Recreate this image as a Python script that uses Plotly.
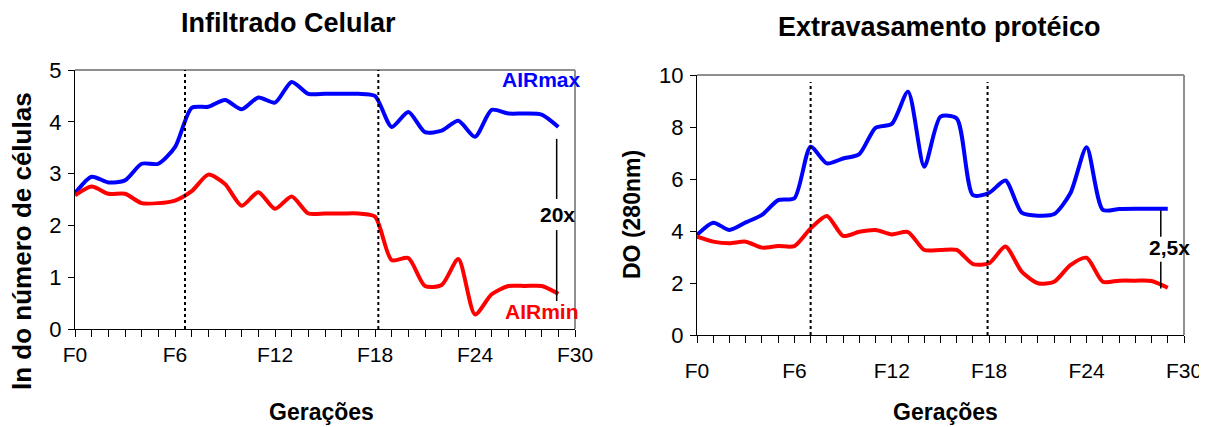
import plotly.graph_objects as go

# ---------------- data ----------------
gen = list(range(30))
tick_vals = [0, 6, 12, 18, 24, 30]
tick_text = ["F0", "F6", "F12", "F18", "F24", "F30"]

# Infiltrado Celular (ln do número de células)
cel_max = [2.62, 2.94, 2.83, 2.87, 3.19, 3.19, 3.51, 4.27, 4.29, 4.42,
           4.24, 4.47, 4.37, 4.77, 4.54, 4.54, 4.54, 4.54, 4.50, 3.90,
           4.19, 3.80, 3.83, 4.02, 3.71, 4.23, 4.16, 4.16, 4.14, 3.90]
cel_min = [2.58, 2.75, 2.61, 2.61, 2.43, 2.43, 2.48, 2.66, 2.98, 2.80,
           2.38, 2.64, 2.32, 2.56, 2.23, 2.23, 2.23, 2.23, 2.17, 1.33,
           1.37, 0.83, 0.85, 1.35, 0.28, 0.67, 0.83, 0.83, 0.83, 0.68]

# Extravasamento protéico (DO 280nm)
prot_max = [3.85, 4.32, 4.04, 4.33, 4.62, 5.19, 5.26, 7.24, 6.60, 6.79,
            6.96, 7.97, 8.12, 9.36, 6.47, 8.40, 8.33, 5.38, 5.47, 5.94,
            4.71, 4.59, 4.65, 5.45, 7.22, 4.81, 4.85, 4.86, 4.86, 4.86]
prot_min = [3.78, 3.59, 3.53, 3.59, 3.36, 3.42, 3.42, 4.10, 4.58, 3.81,
            3.97, 4.04, 3.87, 3.96, 3.27, 3.27, 3.27, 2.73, 2.76, 3.40,
            2.44, 1.99, 2.05, 2.69, 2.97, 2.05, 2.09, 2.09, 2.08, 1.82]

# separators (generation positions of dotted lines)
cel_sep = [6.6, 18.2]
prot_sep = [7.0, 17.9]

FONT = "Liberation Sans, Arial, sans-serif"
TICKFONT = "Liberation Sans Narrow, Arial Narrow, Liberation Sans, Arial, sans-serif"
BLUE = "#0000FF"
RED = "#FF0000"

# the page body adds an 8px margin: size the figure to the remaining window
OFF = 8
W, H = 1207 - OFF, 427 - OFF

fig = go.Figure()

def add_line(x, y, color, xa, ya):
    fig.add_trace(go.Scatter(
        x=x, y=y, mode="lines", xaxis=xa, yaxis=ya, showlegend=False,
        line=dict(color=color, width=4, shape="spline", smoothing=0.7),
        hoverinfo="skip"))

add_line(gen, cel_max, BLUE, "x", "y")
add_line(gen, cel_min, RED, "x", "y")
add_line(gen, prot_max, BLUE, "x2", "y2")
add_line(gen, prot_min, RED, "x2", "y2")

def xaxis_cfg(domain, anchor, standoff):
    return dict(
        domain=domain, anchor=anchor, range=[0, 30], automargin=False,
        tickvals=tick_vals, ticktext=tick_text,
        ticks="outside", ticklen=7, tickwidth=1, tickcolor="black",
        minor=dict(dtick=1, tick0=0, ticks="outside", ticklen=7,
                   tickwidth=1, tickcolor="black", showgrid=False),
        showline=True, linecolor="black", linewidth=1,
        showgrid=False, zeroline=False,
        tickfont=dict(family=TICKFONT, size=21, color="black"),
        ticklabelstandoff=standoff, fixedrange=True)

def yaxis_cfg(domain, anchor, rng, dtick):
    return dict(
        domain=domain, anchor=anchor, range=rng, dtick=dtick, tick0=0,
        automargin=False,
        ticks="outside", ticklen=6, tickwidth=1, tickcolor="black",
        showline=True, linecolor="black", linewidth=1,
        showgrid=False, zeroline=False,
        tickfont=dict(family=FONT, size=22, color="black"),
        ticklabelstandoff=2, fixedrange=True)

# plot-area pixel boxes (window pixels)
L = dict(x0=75, x1=575, y0=70, y1=329)
R = dict(x0=697, x1=1184, y0=75, y1=335)

def fx(px):
    return (px - OFF) / W

def fy(py):
    return 1 - (py - OFF) / H

def dom_x(b):
    return [fx(b["x0"]), fx(b["x1"])]

def dom_y(b):
    return [fy(b["y1"]), fy(b["y0"])]

fig.update_layout(
    width=W, height=H,
    margin=dict(l=0, r=0, t=0, b=0, pad=0, autoexpand=False),
    paper_bgcolor="white", plot_bgcolor="white",
    font=dict(family=FONT, color="black"),
    xaxis=xaxis_cfg(dom_x(L), "y", 0),
    yaxis=yaxis_cfg(dom_y(L), "x", [0, 5], 1),
    xaxis2=xaxis_cfg(dom_x(R), "y2", 10),
    yaxis2=yaxis_cfg(dom_y(R), "x2", [0, 10], 2),
)

shapes = []
# gray frame on top and right
for xr, yr in (("x domain", "y domain"), ("x2 domain", "y2 domain")):
    shapes.append(dict(type="line", xref=xr, yref=yr, x0=0, x1=1, y0=1, y1=1,
                       line=dict(color="#8f8f8f", width=2), layer="below"))
    shapes.append(dict(type="line", xref=xr, yref=yr, x0=1, x1=1, y0=0, y1=1,
                       line=dict(color="#8f8f8f", width=2), layer="below"))
# dotted generation separators
for s in cel_sep:
    shapes.append(dict(type="line", xref="x", yref="y", x0=s, x1=s, y0=0, y1=5,
                       line=dict(color="black", width=2, dash="dot")))
for s in prot_sep:
    shapes.append(dict(type="line", xref="x2", yref="y2", x0=s, x1=s, y0=0, y1=9.73,
                       line=dict(color="black", width=2, dash="dot")))
# fold-change brackets
for (y0, y1) in ((3.67, 2.51), (1.91, 0.54)):
    shapes.append(dict(type="line", xref="x", yref="y", x0=28.9, x1=28.9, y0=y0, y1=y1,
                       line=dict(color="black", width=1.5)))
for (y0, y1) in ((4.81, 3.78), (2.82, 1.79)):
    shapes.append(dict(type="line", xref="x2", yref="y2", x0=28.57, x1=28.57, y0=y0, y1=y1,
                       line=dict(color="black", width=1.5)))
fig.update_layout(shapes=shapes)

ann = []
def paper_text(text, px, py, size, angle=0):
    ann.append(dict(text=text, xref="paper", yref="paper", x=fx(px), y=fy(py),
                    xanchor="center", yanchor="middle", showarrow=False,
                    textangle=angle, font=dict(family=FONT, size=size, color="black")))

paper_text("<b>Infiltrado Celular</b>", 288, 23, 27)
paper_text("<b>Extravasamento protéico</b>", 940, 27, 27)
paper_text("<b>Gerações</b>", 322, 412, 23)
paper_text("<b>Gerações</b>", 945, 412, 23)
paper_text("<b>ln do número de células</b>", 22, 241, 26, -90)
paper_text("<b>DO (280nm)</b>", 632, 215, 23, -90)

def data_text(text, xr, yr, x, y, color):
    ann.append(dict(text=text, xref=xr, yref=yr, x=x, y=y, showarrow=False,
                    xanchor="center", yanchor="middle",
                    font=dict(family=FONT, size=21, color=color)))

data_text("<b>AIRmax</b>", "x", "y", 28.0, 4.81, BLUE)
data_text("<b>AIRmin</b>", "x", "y", 28.0, 0.33, RED)
data_text("<b>20x</b>", "x", "y", 28.95, 2.22, "black")
data_text("<b>2,5x</b>", "x2", "y2", 29.1, 3.37, "black")
fig.update_layout(annotations=ann)

fig.write_html("out.html")
